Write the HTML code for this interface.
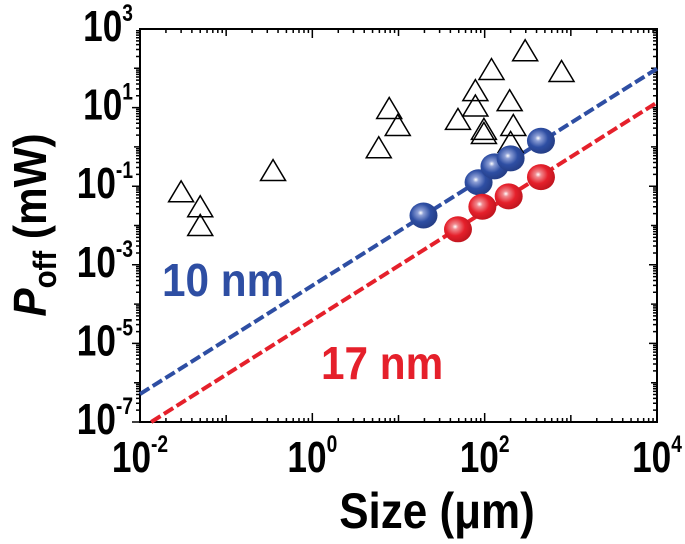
<!DOCTYPE html>
<html><head><meta charset="utf-8"><style>
html,body{margin:0;padding:0;background:#fff;}
svg{display:block;font-family:"Liberation Sans",Arial,sans-serif;font-weight:bold;}
</style></head><body>
<svg id="chart" width="685" height="544" viewBox="0 0 685 544">
<defs>
<radialGradient id="gb" cx="0.4" cy="0.4" r="0.7"><stop offset="0" stop-color="#ffffff"/><stop offset="0.15" stop-color="#8d9fd6"/><stop offset="0.5" stop-color="#2e4ea3"/><stop offset="1" stop-color="#22387c"/></radialGradient>
<radialGradient id="gr" cx="0.4" cy="0.4" r="0.7"><stop offset="0" stop-color="#ffffff"/><stop offset="0.15" stop-color="#f08a8f"/><stop offset="0.5" stop-color="#e5202b"/><stop offset="1" stop-color="#b5121b"/></radialGradient>
</defs>
<g id="axes"></g>
<g id="lines"></g>
<g id="marks"></g>
<text x="162" y="296" font-size="46" fill="#2e4ea3" transform="translate(162 0) scale(0.92 1) translate(-162 0)">10 nm</text>
<text x="321" y="379" font-size="46" fill="#e5202b" transform="translate(321 0) scale(0.92 1) translate(-321 0)">17 nm</text>
<text x="437" y="528" font-size="50" text-anchor="middle" transform="translate(437 0) scale(0.88 1) translate(-437 0)">Size (μm)</text>
<text transform="translate(46 225) rotate(-90) scale(0.92 1)" font-size="46" text-anchor="middle"><tspan font-style="italic">P</tspan><tspan font-size="32" dy="10">off</tspan><tspan dy="-10"> (mW)</tspan></text>
</svg>
<script>
const xTickExps=[-2,0,2,4];
const yTickExps=[3,1,-1,-3,-5,-7];
const triX=[0.03,0.05,0.05,0.35,5.9,7.8,9.8,49,78,78,98,98,120,195,215,200,295,780];
const triY=[0.072,0.03,0.01,0.25,0.95,9.5,3.5,5,27,11,2.8,2.2,93,15,3.5,1.3,280,83];
const blueX=[19.5,85,130,200,450];
const blueY=[0.018,0.126,0.32,0.51,1.43];
const redX=[49,94,190,450];
const redY=[0.008,0.030,0.055,0.17];
const blueFit=[-6.29,1.38];  // log10 intercept at x=1e-2, slope
const redFit=[-7.18,1.385];
const L=140,R=657,T=29,B=422,XMIN=-2,XMAX=4,YMIN=-7,YMAX=3;
const sx=v=>L+(Math.log10(v)-XMIN)/(XMAX-XMIN)*(R-L);
const sy=v=>B-(Math.log10(v)-YMIN)/(YMAX-YMIN)*(B-T);
const NS="http://www.w3.org/2000/svg";
function mk(tag,attrs,parent){const e=document.createElementNS(NS,tag);for(const k in attrs)e.setAttribute(k,attrs[k]);parent.appendChild(e);return e;}
const ax=document.getElementById('axes');
const frame=mk('rect',{x:L,y:T,width:R-L,height:B-T,fill:'none',stroke:'#000','stroke-width':2},ax);


let d='';
for(let e=XMIN;e<XMAX;e++){for(let m=1;m<10;m++){const x=sx(m*Math.pow(10,e));const len=(m==1?(e%2==0?9:7):4);d+=`M${x} ${B}v${-len}M${x} ${T}v${len}`;}}
d+=`M${R} ${B}v-9M${R} ${T}v9`;
for(let e=YMIN;e<YMAX;e++){for(let m=1;m<10;m++){const y=sy(m*Math.pow(10,e));const len=(m==1?(e%2!=0?8:6):4);d+=`M${L} ${y}h${-len}M${R} ${y}h${-len}`;}}
const ticks=mk('path',{d:d,stroke:'#000','stroke-width':1.5,fill:'none'},ax);


xTickExps.forEach(e=>{const x=sx(Math.pow(10,e));const t=mk('text',{x:x,y:B+50,'font-size':44,'text-anchor':'middle',transform:`translate(${x} 0) scale(0.8 1) translate(${-x} 0)`},ax);t.innerHTML=`10<tspan font-size="24" dy="-20">${e}</tspan>`;

});
yTickExps.forEach(e=>{const y=sy(Math.pow(10,e));const t=mk('text',{x:133,y:y+12,'font-size':44,'text-anchor':'end',transform:`translate(133 0) scale(0.8 1) translate(-133 0)`},ax);t.innerHTML=`10<tspan font-size="24" dy="-20">${e}</tspan>`;

});
const ln=document.getElementById('lines');
function fit(p,col,x0,name){const xa=x0,xb=1e4;const ya=Math.pow(10,p[0]+p[1]*(Math.log10(xa)+2)),yb=Math.pow(10,p[0]+p[1]*(Math.log10(xb)+2));
const l=mk('line',{x1:sx(xa),y1:sy(ya),x2:sx(xb),y2:sy(yb),stroke:col,'stroke-width':4,'stroke-dasharray':'11 4'},ln);

}
fit(blueFit,'#2e4ea3',0.01,'fit-line-10nm');
fit(redFit,'#e5202b',Math.pow(10,-2+(YMIN-redFit[0])/redFit[1]),'fit-line-17nm');
const mg=document.getElementById('marks');
triX.forEach((v,i)=>{const x=sx(v),y=sy(triY[i]);const p=mk('polygon',{points:`${x-12.5},${y+10} ${x+12.5},${y+10} ${x},${y-11}`,fill:'none',stroke:'#000','stroke-width':1.5},mg);

});
blueX.forEach((v,i)=>{const c=mk('ellipse',{cx:sx(v),cy:sy(blueY[i]),rx:14,ry:13,fill:'url(#gb)'},mg);

});
redX.forEach((v,i)=>{const c=mk('ellipse',{cx:sx(v),cy:sy(redY[i]),rx:14,ry:13,fill:'url(#gr)'},mg);

});
</script>
</body></html>
